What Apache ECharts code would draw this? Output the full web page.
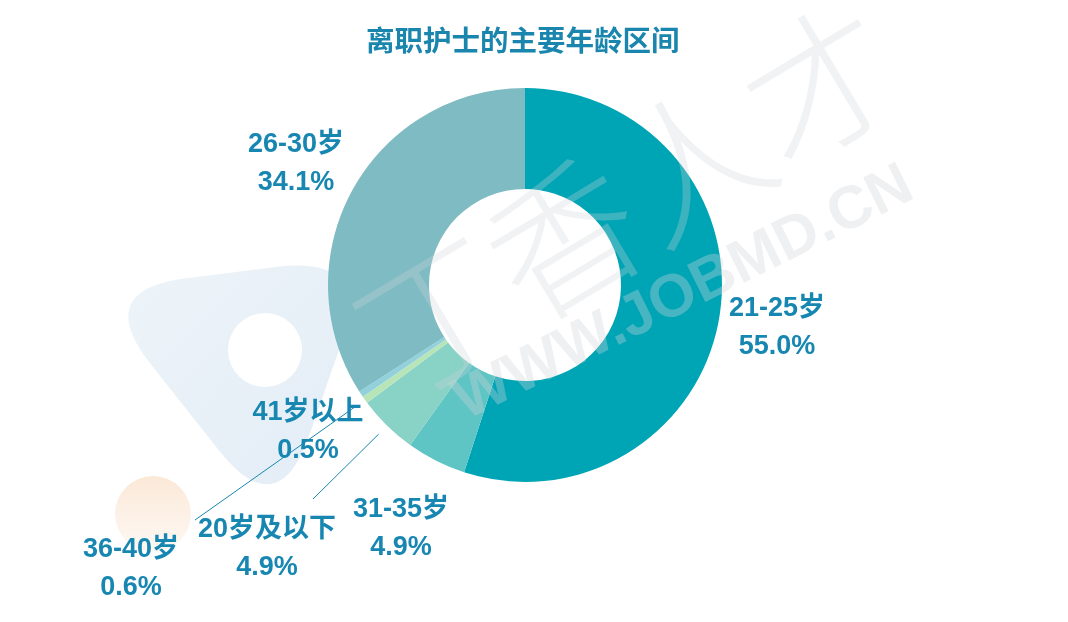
<!DOCTYPE html>
<html>
<head>
<meta charset="utf-8">
<script src="https://cdn.jsdelivr.net/npm/echarts@6/dist/echarts.min.js"></script>
<style>
  html, body { margin: 0; padding: 0; background: #ffffff; }
  #chart { width: 1068px; height: 622px; }
</style>
</head>
<body>
<div id="chart"></div>
<script>
// ---- data ----
const categories = ['21-25岁', '31-35岁', '20岁及以下', '36-40岁', '41岁以上', '26-30岁'];
const values     = [55.0, 4.9, 4.9, 0.6, 0.5, 34.1];
const colors     = ['#00A5B5', '#5EC4C4', '#88D2C6', '#B8E5B8', '#92D0DC', '#7FBBC3'];
const titleText  = '离职护士的主要年龄区间';

// ---- layout ----
const CX = 525, CY = 285, R_IN = 96, R_OUT = 197;
const labelPos = {
  '21-25岁':   [777, 328],
  '26-30岁':   [296, 164],
  '41岁以上':  [308, 432],
  '20岁及以下': [267, 549],
  '31-35岁':   [401, 529],
  '36-40岁':   [131, 569]
};
// end of leader lines, relative to the label centre
const lineEnd = {
  '20岁及以下': [46, -50],
  '36-40岁':   [64, -49]
};
const TXT = '#1787B2';

function roundedTriPoints(pts, d) {
  const n = pts.length;
  const lerp = (a, b, t) => [a[0] + (b[0] - a[0]) * t, a[1] + (b[1] - a[1]) * t];
  const len = (a, b) => Math.hypot(b[0] - a[0], b[1] - a[1]);
  const out = [];
  for (let i = 0; i < n; i++) {
    const prev = pts[(i - 1 + n) % n], cur = pts[i], next = pts[(i + 1) % n];
    const a = lerp(cur, prev, d / len(cur, prev));
    const b = lerp(cur, next, d / len(cur, next));
    for (let k = 0; k <= 20; k++) {
      const t = k / 20;
      out.push([
        (1 - t) * (1 - t) * a[0] + 2 * (1 - t) * t * cur[0] + t * t * b[0],
        (1 - t) * (1 - t) * a[1] + 2 * (1 - t) * t * cur[1] + t * t * b[1]
      ]);
    }
  }
  return out;
}

const chart = echarts.init(document.getElementById('chart'), null, { renderer: 'canvas' });

const data = categories.map((name, i) => ({
  name: name,
  value: values[i],
  itemStyle: { color: colors[i] },
  labelLine: { show: !!lineEnd[name] }
}));

const option = {
  backgroundColor: '#ffffff',
  animation: false,
  title: {
    text: titleText,
    left: 366,
    top: 26,
    padding: 0,
    textStyle: {
      fontFamily: '"Noto Sans CJK SC", sans-serif',
      fontSize: 28.5,
      fontWeight: 'bold',
      color: '#1A86AE'
    }
  },
  graphic: [
    {
      type: 'polygon', z: -10, silent: true,
      shape: { points: roundedTriPoints([[92, 290], [372, 255], [278, 525]], 95) },
      style: {
        fill: {
          type: 'linear', x: 0, y: 0, x2: 1, y2: 1,
          colorStops: [
            { offset: 0, color: '#EDF4F9' },
            { offset: 1, color: '#E3EDF6' }
          ]
        }
      }
    },
    {
      type: 'circle', z: -9, silent: true,
      shape: { cx: 265, cy: 350, r: 37 },
      style: { fill: '#ffffff' }
    },
    {
      type: 'circle', z: -9, silent: true,
      shape: { cx: 153, cy: 514, r: 38 },
      style: {
        fill: {
          type: 'linear', x: 0, y: 0, x2: 0, y2: 1,
          colorStops: [
            { offset: 0, color: 'rgba(250,226,204,0.8)' },
            { offset: 1, color: 'rgba(252,240,230,0.5)' }
          ]
        }
      }
    },
    {
      type: 'text', z: 100, silent: true,
      x: 628, y: 200, rotation: 0.54,
      style: {
        text: '丁香人才',
        fontFamily: '"Noto Sans CJK SC", sans-serif',
        fontWeight: 300,
        fontSize: 150,
        fill: 'rgba(205,212,218,0.3)',
        align: 'center', verticalAlign: 'middle'
      }
    },
    {
      type: 'text', z: 100, silent: true,
      x: 684, y: 294, rotation: 0.46,
      style: {
        text: 'WWW.JOBMD.CN',
        fontFamily: '"Liberation Sans", Arial, sans-serif',
        fontWeight: 'bold',
        fontSize: 60,
        fill: 'rgba(205,212,218,0.35)',
        align: 'center', verticalAlign: 'middle'
      }
    }
  ],
  series: [{
    type: 'pie',
    center: [CX, CY],
    radius: [R_IN, R_OUT],
    startAngle: 90,
    clockwise: true,
    avoidLabelOverlap: false,
    itemStyle: { borderWidth: 0 },
    emphasis: { disabled: true },
    label: {
      show: true,
      position: 'outside',
      formatter: p => p.name + '\n' + p.value.toFixed(1) + '%',
      fontFamily: '"Liberation Sans", "Noto Sans CJK SC", Arial, sans-serif',
      fontSize: 27,
      fontWeight: 'bold',
      lineHeight: 38,
      color: TXT,
      align: 'center'
    },
    labelLine: {
      show: false,
      length: 10,
      length2: 10,
      smooth: false,
      lineStyle: { color: TXT, width: 1 }
    },
    labelLayout: function (params) {
      const name = categories[params.dataIndex];
      const pos = labelPos[name];
      const res = { x: pos[0], y: pos[1], align: 'center', verticalAlign: 'middle' };
      if (lineEnd[name] && params.labelLinePoints) {
        const p0 = params.labelLinePoints[0];
        const dx = p0[0] - CX, dy = p0[1] - CY;
        const dist = Math.hypot(dx, dy);
        const start = [CX + dx / dist * (R_OUT + 12), CY + dy / dist * (R_OUT + 12)];
        const end = [pos[0] + lineEnd[name][0], pos[1] + lineEnd[name][1]];
        const mid = [(start[0] + end[0]) / 2, (start[1] + end[1]) / 2];
        res.labelLinePoints = [start, mid, end];
      }
      return res;
    },
    data: data
  }]
};

chart.setOption(option);
</script>
</body>
</html>
